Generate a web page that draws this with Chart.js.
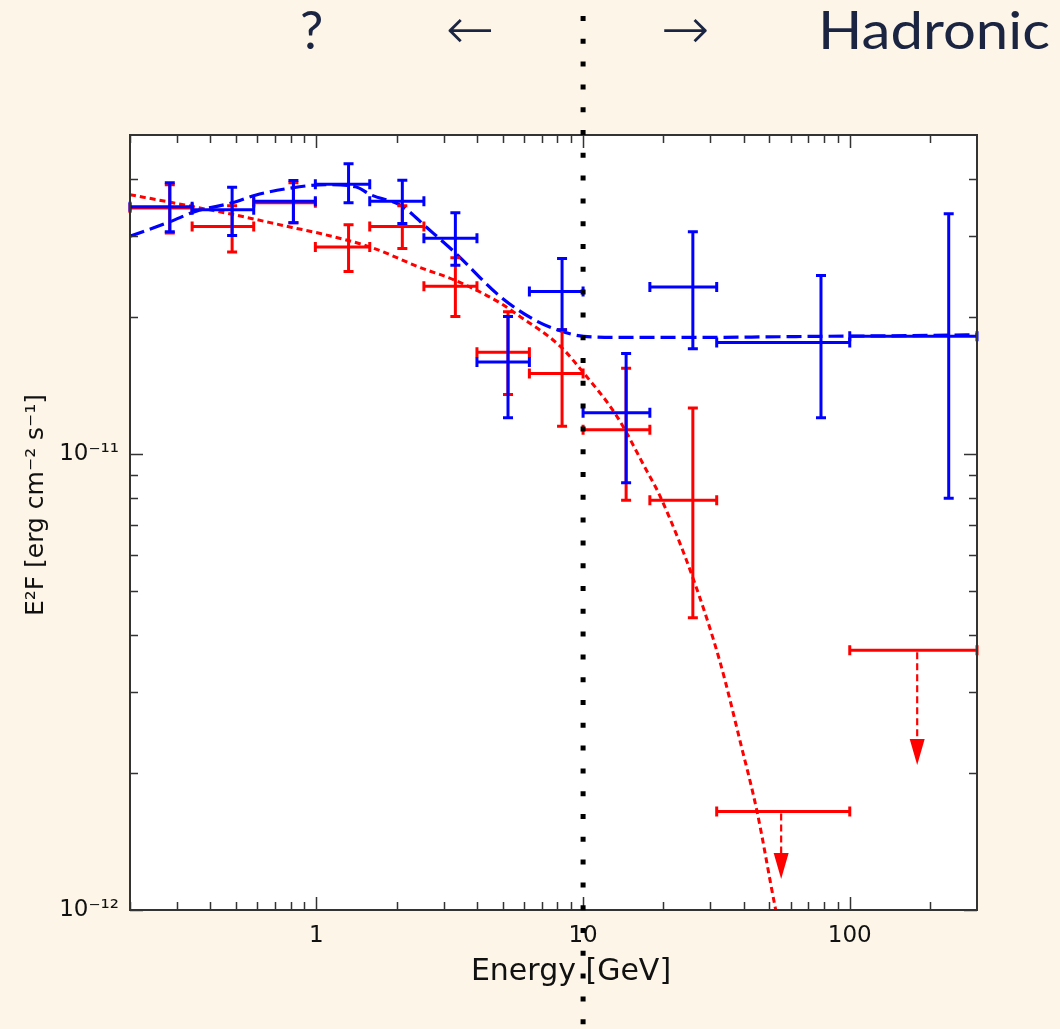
<!DOCTYPE html>
<html>
<head>
<meta charset="utf-8">
<script src="https://cdn.jsdelivr.net/npm/chart.js@4.4.1/dist/chart.umd.min.js"></script>
<style>
  html, body { margin: 0; padding: 0; background: #fdf6e8; }
  #wrap { width: 1060px; height: 1029px; }
</style>
</head>
<body>
<div id="wrap"><canvas id="sed" width="1060" height="1029"></canvas></div>
<script>
// energy bins [GeV]
const binLow    = [0.2, 0.342, 0.582, 0.991, 1.585, 2.53, 4.0, 6.29, 10.0, 17.8, 31.7, 100];
const binHigh   = [0.342, 0.582, 0.991, 1.585, 2.53, 4.0, 6.29, 10.0, 17.8, 31.7, 100, 300];
const binCenter = [0.282, 0.483, 0.82, 1.32, 2.10, 3.32, 5.23, 8.34, 14.5, 25.8, 78.0, 235];

// E2F in units of 1e-11 erg cm-2 s-1
const blueFlux = [3.48, 3.43, 3.58, 3.90, 3.58, 2.97, 1.59, 2.27, 1.23, 2.32, 1.755, 1.81];
const blueLow  = [3.07, 3.01, 3.21, 3.55, 3.20, 2.59, 1.20, 1.87, 0.864, 1.70, 1.20, 0.799];
const blueHigh = [3.93, 3.84, 3.975, 4.325, 3.98, 3.376, 2.00, 2.68, 1.66, 3.07, 2.46, 3.36];

const redFlux = [3.46, 3.15, 3.55, 2.84, 3.15, 2.33, 1.67, 1.50, 1.13, 0.791];
const redLow  = [3.05, 2.77, 3.21, 2.51, 2.82, 2.00, 1.35, 1.15, 0.791, 0.437];
const redHigh = [3.89, 3.50, 3.93, 3.18, 3.50, 2.69, 2.05, 1.87, 1.54, 1.26];

// red upper limits
const ulLow    = [31.7, 100];
const ulHigh   = [100, 300];
const ulArrowE = [55.3, 179];
const ulFlux   = [0.1645, 0.371];
const ulTip    = [0.117, 0.208];

// model curves
const blueModelE = [0.2, 0.2836, 0.352, 0.483, 0.590, 0.811, 1.081, 1.40, 1.594, 2.096, 2.60, 3.27, 4.90, 6.53, 7.99, 10.05, 14.54, 25.85, 78.1, 234.9, 300];
const blueModelF = [3.00, 3.23, 3.40, 3.55, 3.69, 3.83, 3.89, 3.85, 3.70, 3.49, 3.13, 2.78, 2.21, 1.97, 1.87, 1.81, 1.80, 1.80, 1.81, 1.82, 1.825];
const redModelE = [0.2, 0.2836, 0.483, 0.811, 1.035, 1.594, 2.455, 3.32, 4.90, 5.66, 8.22, 10.05, 13.41, 17.12, 19.49, 25.98, 32.7, 38.9, 44.9, 52.6, 54.0];
const redModelF = [3.70, 3.56, 3.35, 3.135, 3.04, 2.84, 2.56, 2.40, 2.14, 2.02, 1.72, 1.504, 1.207, 0.930, 0.805, 0.529, 0.348, 0.233, 0.1645, 0.101, 0.094];

// axes
const xLabelTicks = [1, 10, 100];
const xMinorTicks = [0.2, 0.3, 0.4, 0.5, 0.6, 0.7, 0.8, 0.9, 2, 3, 4, 5, 6, 7, 8, 9, 20, 30, 40, 50, 60, 70, 80, 90, 200];
const yLabelTicks = [1e-12, 1e-11];
const yTickLabels = ['10\u207B\u00B9\u00B2', '10\u207B\u00B9\u00B9'];
const yMinorTicks = [2e-12, 3e-12, 4e-12, 5e-12, 6e-12, 7e-12, 8e-12, 9e-12, 2e-11, 3e-11, 4e-11];
const splitEnergy = 10;
const xTitle = 'Energy [GeV]';
const yTitle = 'E\u00B2F [erg cm\u207B\u00B2 s\u207B\u00B9]';

const bg = '#fdf6e8';
const ink = '#1b2542';
const unit = 1e-11;

function points(e, f) {
  return e.map((v, i) => ({x: v, y: f[i] * unit}));
}
function errs(n, lo, hi) {
  let out = [];
  for (let i = 0; i < n; i++) {
    out.push({xMin: binLow[i], xMax: binHigh[i], yMin: lo[i] * unit, yMax: hi[i] * unit});
  }
  return out;
}

const paperPlugin = {
  id: 'paper',
  beforeDraw(chart) {
    const {ctx, chartArea: a} = chart;
    ctx.save();
    ctx.fillStyle = bg;
    ctx.fillRect(0, 0, chart.width, chart.height);
    ctx.fillStyle = '#ffffff';
    ctx.fillRect(a.left, a.top, a.right - a.left, a.bottom - a.top);
    ctx.restore();
  }
};

const errorBarPlugin = {
  id: 'errorBars',
  afterDatasetsDraw(chart) {
    const {ctx, chartArea: a, scales: {x, y}} = chart;
    const cap = 5;
    ctx.save();
    ctx.beginPath();
    ctx.rect(a.left - 2, a.top, a.right - a.left + 4, a.bottom - a.top);
    ctx.clip();
    ctx.lineWidth = 3;
    chart.data.datasets.forEach(ds => {
      if (ds.errors) {
        ctx.strokeStyle = ds.borderColor;
        ds.data.forEach((p, i) => {
          const er = ds.errors[i];
          const px = x.getPixelForValue(p.x), py = y.getPixelForValue(p.y);
          const x0 = x.getPixelForValue(er.xMin), x1 = x.getPixelForValue(er.xMax);
          const y0 = y.getPixelForValue(er.yMin), y1 = y.getPixelForValue(er.yMax);
          ctx.beginPath();
          ctx.moveTo(x0, py); ctx.lineTo(x1, py);
          ctx.moveTo(px, y0); ctx.lineTo(px, y1);
          ctx.moveTo(x0, py - cap); ctx.lineTo(x0, py + cap);
          ctx.moveTo(x1, py - cap); ctx.lineTo(x1, py + cap);
          ctx.moveTo(px - cap, y0); ctx.lineTo(px + cap, y0);
          ctx.moveTo(px - cap, y1); ctx.lineTo(px + cap, y1);
          ctx.stroke();
        });
      }
      if (ds.limits) {
        ctx.strokeStyle = ds.borderColor;
        ctx.fillStyle = ds.borderColor;
        ds.data.forEach((p, i) => {
          const lim = ds.limits[i];
          const py = y.getPixelForValue(p.y);
          const x0 = x.getPixelForValue(lim.xMin), x1 = x.getPixelForValue(lim.xMax);
          const ax = x.getPixelForValue(p.x);
          const tip = y.getPixelForValue(lim.tip);
          const head = 26;
          ctx.beginPath();
          ctx.moveTo(x0, py); ctx.lineTo(x1, py);
          ctx.moveTo(x0, py - cap); ctx.lineTo(x0, py + cap);
          ctx.moveTo(x1, py - cap); ctx.lineTo(x1, py + cap);
          ctx.stroke();
          ctx.save();
          ctx.lineWidth = 2.2;
          ctx.setLineDash([7, 4]);
          ctx.beginPath();
          ctx.moveTo(ax, py + 2); ctx.lineTo(ax, tip - head);
          ctx.stroke();
          ctx.restore();
          ctx.beginPath();
          ctx.moveTo(ax - 7.5, tip - head);
          ctx.lineTo(ax + 7.5, tip - head);
          ctx.lineTo(ax, tip);
          ctx.closePath();
          ctx.fill();
        });
      }
    });
    ctx.restore();
  }
};

const framePlugin = {
  id: 'frame',
  afterDraw(chart) {
    const {ctx, chartArea: a, scales: {x, y}} = chart;
    ctx.save();
    ctx.strokeStyle = '#333';
    ctx.lineWidth = 1.5;
    const xt = (v, len) => {
      const px = Math.round(x.getPixelForValue(v)) + 0.5;
      ctx.moveTo(px, a.bottom); ctx.lineTo(px, a.bottom - len);
      ctx.moveTo(px, a.top); ctx.lineTo(px, a.top + len);
    };
    const yt = (v, len) => {
      const py = Math.round(y.getPixelForValue(v)) + 0.5;
      ctx.moveTo(a.left, py); ctx.lineTo(a.left + len, py);
      ctx.moveTo(a.right, py); ctx.lineTo(a.right - len, py);
    };
    ctx.beginPath();
    xLabelTicks.forEach(v => xt(v, 13));
    xMinorTicks.forEach(v => xt(v, 8));
    yLabelTicks.forEach(v => yt(v, 13));
    yMinorTicks.forEach(v => yt(v, 8));
    ctx.stroke();
    ctx.lineWidth = 2;
    ctx.strokeRect(a.left, a.top, a.right - a.left, a.bottom - a.top);

    // axis titles
    ctx.fillStyle = '#111';
    ctx.textAlign = 'center';
    ctx.textBaseline = 'middle';
    ctx.font = '30px "DejaVu Sans"';
    ctx.fillText(xTitle, 571, 972);
    ctx.save();
    ctx.translate(36, 505);
    ctx.rotate(-Math.PI / 2);
    ctx.font = '25px "DejaVu Sans"';
    ctx.fillText(yTitle, 0, 0);
    ctx.restore();

    // dotted split line at 10 GeV, across the whole picture
    const sx = x.getPixelForValue(splitEnergy);
    ctx.strokeStyle = '#000';
    ctx.lineWidth = 5;
    ctx.setLineDash([5, 17.8]);
    ctx.lineDashOffset = 6.8;
    ctx.beginPath();
    ctx.moveTo(sx, 0); ctx.lineTo(sx, chart.height);
    ctx.stroke();
    ctx.setLineDash([]);

    // headline
    ctx.fillStyle = ink;
    ctx.textBaseline = 'alphabetic';
    ctx.textAlign = 'left';
    ctx.font = '52px Lato';
    ctx.fillText('?', 300, 49);
    const w = ctx.measureText('Hadronic').width;
    ctx.save();
    ctx.translate(818, 49);
    ctx.scale(232 / w, 1);
    ctx.fillText('Hadronic', 0, 0);
    ctx.restore();
    ctx.font = '200 58px "DejaVu Sans"';
    ctx.textAlign = 'center';
    ctx.textBaseline = 'middle';
    ctx.fillText('\u2190', 470, 34);
    ctx.fillText('\u2192', 685, 34);
    ctx.restore();
  }
};

const tickFont = {family: 'DejaVu Sans', size: 23};

new Chart(document.getElementById('sed'), {
  type: 'line',
  data: {
    datasets: [
      {
        label: 'red model',
        data: points(redModelE, redModelF),
        borderColor: '#ff0000',
        borderWidth: 3,
        borderDash: [6, 4],
        pointRadius: 0,
        cubicInterpolationMode: 'monotone',
        fill: false
      },
      {
        label: 'blue model',
        data: points(blueModelE, blueModelF),
        borderColor: '#0000ff',
        borderWidth: 3.2,
        borderDash: [15, 6],
        pointRadius: 0,
        cubicInterpolationMode: 'monotone',
        fill: false
      },
      {
        label: 'red data',
        data: points(binCenter.slice(0, redFlux.length), redFlux),
        errors: errs(redFlux.length, redLow, redHigh),
        borderColor: '#ff0000',
        showLine: false,
        pointRadius: 0
      },
      {
        label: 'red limits',
        data: points(ulArrowE, ulFlux),
        limits: ulLow.map((v, i) => ({xMin: v, xMax: ulHigh[i], tip: ulTip[i] * unit})),
        borderColor: '#ff0000',
        showLine: false,
        pointRadius: 0
      },
      {
        label: 'blue data',
        data: points(binCenter, blueFlux),
        errors: errs(blueFlux.length, blueLow, blueHigh),
        borderColor: '#0000ff',
        showLine: false,
        pointRadius: 0
      }
    ]
  },
  options: {
    responsive: false,
    animation: false,
    events: [],
    layout: {padding: {left: 0, right: 83, top: 135, bottom: 0}},
    plugins: {legend: {display: false}, tooltip: {enabled: false}},
    scales: {
      x: {
        type: 'logarithmic',
        min: 0.2,
        max: 300,
        grid: {display: false, drawTicks: false},
        border: {display: false},
        afterBuildTicks: s => { s.ticks = xLabelTicks.map(v => ({value: v})); },
        afterFit: s => { s.height = 119; },
        ticks: {
          autoSkip: false, maxRotation: 0, padding: 12, color: '#111', font: tickFont,
          callback: v => String(v)
        }
      },
      y: {
        type: 'logarithmic',
        min: 1e-12,
        max: 5e-11,
        grid: {display: false, drawTicks: false},
        border: {display: false},
        afterBuildTicks: s => { s.ticks = yLabelTicks.map(v => ({value: v})); },
        afterFit: s => { s.width = 130; },
        ticks: {
          autoSkip: false, padding: 11, color: '#111', font: tickFont,
          callback: (v, i) => yTickLabels[i]
        }
      }
    }
  },
  plugins: [paperPlugin, errorBarPlugin, framePlugin]
});
</script>
</body>
</html>
